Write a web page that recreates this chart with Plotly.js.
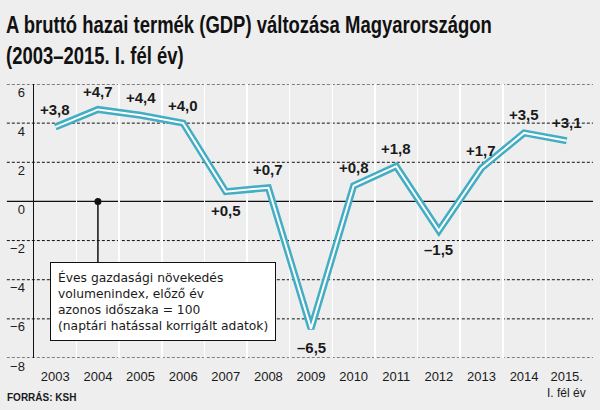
<!DOCTYPE html>
<html>
<head>
<meta charset="utf-8">
<script src="https://cdn.plot.ly/plotly-3.0.1.min.js"></script>
<style>html,body{margin:0;padding:0;background:#eeeeee;}#chart{width:600px;height:410px;}</style>
</head>
<body>
<div id="chart"></div>
<script>
// ---- data ----
const years = ['2003','2004','2005','2006','2007','2008','2009','2010','2011','2012','2013','2014','2015.'];
const gdpChange = [3.8, 4.7, 4.4, 4.0, 0.5, 0.7, -6.5, 0.8, 1.8, -1.5, 1.7, 3.5, 3.1];
const yTicks = [-8, -6, -4, -2, 0, 2, 4, 6];
const titleText = 'A bruttó hazai termék (GDP) változása Magyarországon<br>(2003–2015. I. fél év)';
const noteLines = ['Éves gazdasági növekedés', 'volumenindex, előző év', 'azonos időszaka = 100', '(naptári hatással korrigált adatok)'];
const lastSubLabel = 'I. fél év';
const sourceText = 'FORRÁS: KSH';

// ---- styling ----
const teal = '#43adc4';
const sans = 'Liberation Sans, Arial, sans-serif';
const ink = '#1a1a1a';

function fmt(v) {
  const s = Math.abs(v).toFixed(1).replace('.', ',');
  return (v > 0 ? '+' : (v < 0 ? '–' : '')) + s;
}
function isLocalMin(i) {
  if (i === 0 || i === gdpChange.length - 1) return false;
  return gdpChange[i] < gdpChange[i - 1] && gdpChange[i] < gdpChange[i + 1];
}
const idx = years.map((_, i) => i);

const traces = [
  {x: years, y: gdpChange, type: 'scatter', mode: 'lines', line: {color: teal, width: 7}, hoverinfo: 'skip'},
  {x: years, y: gdpChange, type: 'scatter', mode: 'lines', line: {color: '#ffffff', width: 2}, hoverinfo: 'skip'},
  {x: [years[1]], y: [0], type: 'scatter', mode: 'markers', marker: {color: '#111', size: 7}, hoverinfo: 'skip'}
];

const boxTop = -3.12;
const shapes = yTicks.map(v => ({
  type: 'line', xref: 'paper', yref: 'y', x0: -0.049, x1: 1.009, y0: v, y1: v,
  line: {color: '#111', width: v === 0 ? 1.3 : 1, dash: v === 0 ? 'solid' : '3px,2px'},
  layer: 'below'
}));
shapes.push({type: 'line', xref: 'x', yref: 'y', x0: idx[1], x1: idx[1], y0: 0, y1: boxTop,
  line: {color: '#111', width: 1.5}});

const annotations = gdpChange.map((v, i) => ({
  x: idx[i], y: v, xref: 'x', yref: 'y', text: '<b>' + fmt(v) + '</b>', showarrow: false,
  yshift: isLocalMin(i) ? -19 : 18,
  font: {family: sans, size: 15, color: ink}
}));
annotations.push({
  xref: 'paper', yref: 'y', x: 0.029, y: boxTop, xanchor: 'left', yanchor: 'top',
  text: noteLines.join('<br>'), align: 'left', showarrow: false,
  bgcolor: '#ffffff', bordercolor: '#111', borderwidth: 1, borderpad: 7,
  font: {family: 'DejaVu Sans, sans-serif', size: 12.3, color: ink}
});
annotations.push({
  xref: 'x', yref: 'paper', x: idx[idx.length - 1], y: -0.128, yanchor: 'middle',
  text: lastSubLabel, showarrow: false, font: {family: sans, size: 12, color: ink}
});
annotations.push({
  xref: 'paper', yref: 'paper', x: -0.052, y: -0.142, xanchor: 'left', yanchor: 'middle',
  text: '<b>' + sourceText + '</b>', showarrow: false, font: {family: sans, size: 10, color: ink}
});

const layout = {
  width: 600, height: 410,
  paper_bgcolor: '#eeeeee', plot_bgcolor: 'rgba(0,0,0,0)',
  margin: {l: 34, r: 12, t: 84, b: 52},
  showlegend: false,
  title: {
    text: '<b>' + titleText + '</b>', xref: 'container', yref: 'container',
    x: 6 / 600, xanchor: 'left', y: 1 - 33 / 410, yanchor: 'top',
    font: {family: sans, size: 24, color: '#111'}
  },
  xaxis: {
    type: 'category', range: [-0.5, years.length - 0.5], tickson: 'boundaries',
    showgrid: true, gridcolor: '#ffffff', gridwidth: 1.5, tickangle: 0,
    showline: false, zeroline: false, ticks: '', ticklabelstandoff: 9,
    tickfont: {family: sans, size: 13, color: ink}, fixedrange: true
  },
  yaxis: {
    range: [-8, 6], tickvals: yTicks, showgrid: false, zeroline: false,
    showline: true, linecolor: '#111', linewidth: 1.5, ticks: '',
    ticklabelshift: 8, ticklabelstandoff: 5,
    tickfont: {family: sans, size: 13, color: ink}, fixedrange: true
  },
  shapes: shapes,
  annotations: annotations
};

function condense(selector, s) {
  document.querySelectorAll(selector).forEach(t => {
    const x = parseFloat(t.getAttribute('x')) || 0;
    t.setAttribute('transform', 'translate(' + (x * (1 - s)) + ',0) scale(' + s + ',1)');
  });
}

Plotly.newPlot('chart', traces, layout, {displayModeBar: false, staticPlot: true}).then(() => {
  condense('.gtitle', 0.77);
});
</script>
</body>
</html>
